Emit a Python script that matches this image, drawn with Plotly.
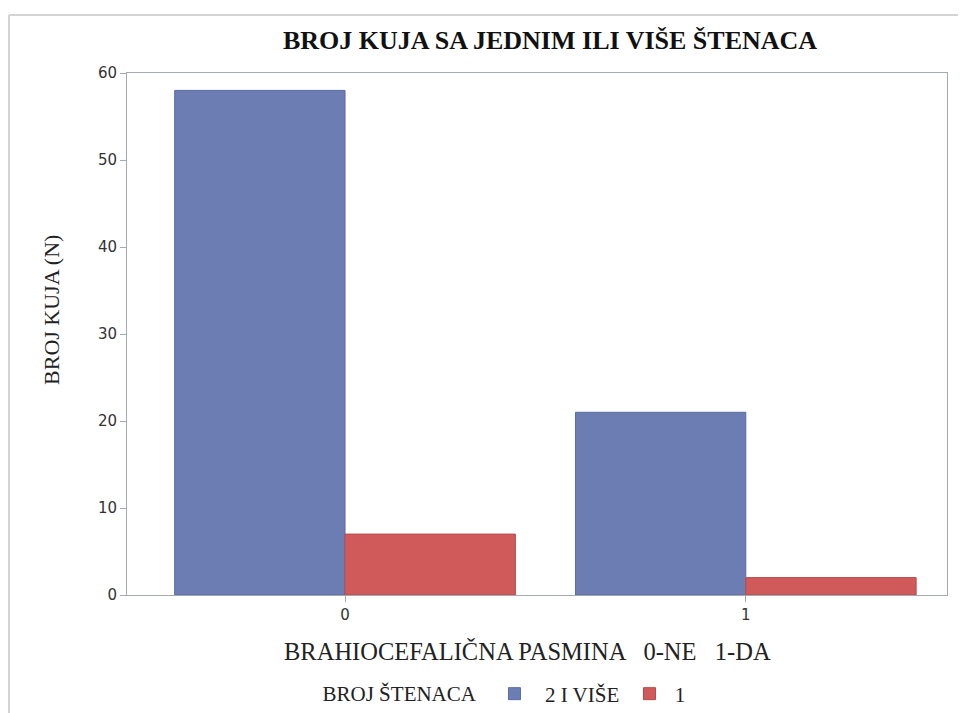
import plotly.graph_objects as go

categories = ["0", "1"]
cat_pos = [0, 1]
series_names = ["2 I VIŠE", "1"]
values_2plus = [58, 21]
values_1 = [7, 2]
y_ticks = [0, 10, 20, 30, 40, 50, 60]

blue = "#6b7db2"
red = "#d05a5a"
serif = "Liberation Serif, Times New Roman, serif"
sans = "DejaVu Sans, Arial, sans-serif"
NB = "\u00a0"

# the page body has an 8px margin, so the figure is placed at (8, 8)
W, H = 958, 705

fig = go.Figure()
fig.add_trace(go.Bar(x=cat_pos, y=values_2plus, name=NB * 2 + series_names[0] + NB,
                     marker=dict(color=blue, line=dict(color="#5b6ca3", width=1))))
fig.add_trace(go.Bar(x=cat_pos, y=values_1, name=NB + series_names[1],
                     marker=dict(color=red, line=dict(color="#b94a4a", width=1))))

fig.update_layout(
    width=W, height=H,
    margin=dict(l=119, r=19, t=65, b=118, autoexpand=False),
    paper_bgcolor="white", plot_bgcolor="white",
    barmode="group", bargap=0.15, bargroupgap=0,
    title=dict(text="<b>BROJ KUJA SA JEDNIM ILI VIŠE ŠTENACA</b>",
               font=dict(family=serif, size=26, color="#111"),
               x=0.5658, xanchor="center", y=1 - 32 / H, yanchor="middle"),
    showlegend=True,
    legend=dict(orientation="h", xref="paper", x=0.236, xanchor="left",
                yref="container", y=1 - 686 / H, yanchor="middle",
                title=dict(text="BROJ ŠTENACA" + NB * 2, font=dict(family=serif, size=21, color="#222"), side="left"),
                font=dict(family=serif, size=21, color="#222"),
                itemwidth=30, traceorder="normal"),
    xaxis=dict(range=[-0.544, 1.502], tickvals=cat_pos, ticktext=categories,
               showline=True, linecolor="#a4aab1", linewidth=1, mirror=True,
               ticks="outside", ticklen=6, tickcolor="#a4aab1",
               showgrid=False, zeroline=False, automargin=False,
               tickfont=dict(family=sans, size=15, color="#333")),
    yaxis=dict(range=[0, 60], tickvals=y_ticks,
               showline=True, linecolor="#a4aab1", linewidth=1, mirror=True,
               ticks="outside", ticklen=6, tickcolor="#a4aab1",
               showgrid=False, zeroline=False, automargin=False,
               tickfont=dict(family=sans, size=15, color="#333")),
    annotations=[
        dict(text="BROJ KUJA (N)", xref="paper", yref="paper",
             x=-0.0915, y=0.546, textangle=-90, showarrow=False,
             xanchor="center", yanchor="middle",
             font=dict(family=serif, size=22, color="#222")),
        dict(text="BRAHIOCEFALIČNA PASMINA   0-NE   1-DA", xref="paper", yref="paper",
             x=0.488, y=-0.109, showarrow=False, xanchor="center", yanchor="middle",
             font=dict(family=serif, size=24.5, color="#222")),
    ],
)

# thin border of the original screenshot frame
fig.add_shape(type="line", xref="paper", yref="paper", x0=-0.1439, x1=-0.1439, y0=-0.3, y1=1.111,
              line=dict(color="#d4d4d4", width=2))
fig.add_shape(type="line", xref="paper", yref="paper", x0=-0.1439, x1=1.03, y0=1.111, y1=1.111,
              line=dict(color="#d4d4d4", width=2))

fig.write_html("out.html")
